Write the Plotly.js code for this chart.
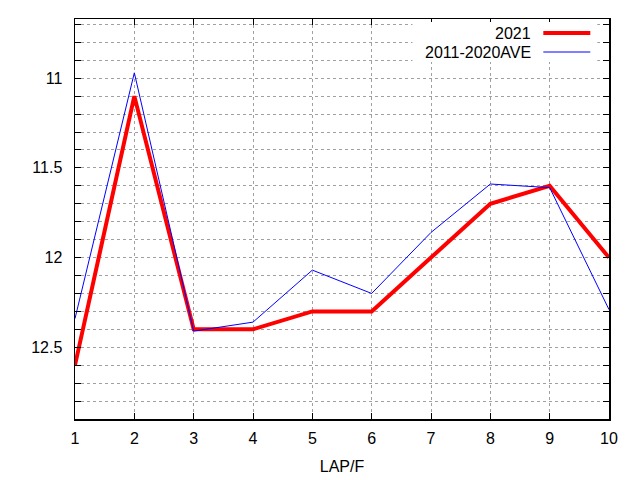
<!DOCTYPE html>
<html><head><meta charset="utf-8">
<script src="https://cdn.plot.ly/plotly-3.0.1.min.js"></script>
<style>body{margin:0;background:#fff}#c{width:640px;height:480px}</style>
</head><body><div id="c"></div>
<script>
const laps = [1,2,3,4,5,6,7,8,9,10];
const y2021 = [12.6,11.1,12.4,12.4,12.3,12.3,12.0,11.7,11.6,12.0];
const yAve = [12.34,10.97,12.41,12.36,12.07,12.2,11.86,11.59,11.61,12.29];
const seriesNames = ['2021','2011-2020AVE'];
const xTitle = 'LAP/F';

const font = {family:'Liberation Sans, Arial, sans-serif', size:16, color:'#000'};
const traces = [
  {x:laps, y:y2021, mode:'lines', name:seriesNames[0], line:{color:'#ff0000', width:4}, showlegend:false},
  {x:laps, y:yAve, mode:'lines', name:seriesNames[1], line:{color:'#0000ff', width:1}, showlegend:false}
];
const layout = {
  width:640, height:480,
  margin:{l:75, r:31, t:19, b:61},
  paper_bgcolor:'#fff', plot_bgcolor:'#fff',
  font:font,
  showlegend:false,
  xaxis:{range:[1,10], dtick:1, tick0:1, showgrid:true, gridcolor:'#a0a0a0', griddash:'dot', gridwidth:1,
    ticks:'inside', ticklen:6, tickcolor:'#000', mirror:'ticks', showline:true, linecolor:'#000', linewidth:1.5,
    zeroline:false, title:{text:xTitle, font:font, standoff:15}, tickfont:font, ticklabelstandoff:4},
  yaxis:{range:[12.9,10.67], dtick:0.5, tick0:0, showgrid:true, gridcolor:'#a0a0a0', griddash:'dot', gridwidth:1,
    ticks:'inside', ticklen:6, tickcolor:'#000', mirror:'ticks', showline:true, linecolor:'#000', linewidth:1.5,
    zeroline:false, tickfont:font, ticklabelstandoff:8,
    minor:{dtick:0.1, tick0:0, showgrid:true, gridcolor:'#a0a0a0', griddash:'dot', gridwidth:1, ticks:'inside', ticklen:6, tickcolor:'#000'}},
  shapes:[
    {type:'rect', xref:'paper', yref:'paper', x0:0.632, x1:0.978, y0:0.8925, y1:0.9925, fillcolor:'#fff', line:{width:0}, layer:'above'},
    {type:'line', xref:'paper', yref:'paper', x0:0.877, x1:0.965, y0:0.965, y1:0.965, line:{color:'#ff0000', width:4}, layer:'above'},
    {type:'line', xref:'paper', yref:'paper', x0:0.877, x1:0.965, y0:0.9175, y1:0.9175, line:{color:'#0000ff', width:1}, layer:'above'}
  ],
  annotations:[
    {xref:'paper', yref:'paper', x:0.857, y:0.965, text:seriesNames[0], showarrow:false, xanchor:'right', yanchor:'middle', font:font},
    {xref:'paper', yref:'paper', x:0.857, y:0.9175, text:seriesNames[1], showarrow:false, xanchor:'right', yanchor:'middle', font:font}
  ]
};
Plotly.newPlot('c', traces, layout, {staticPlot:true, displayModeBar:false});
</script></body></html>
